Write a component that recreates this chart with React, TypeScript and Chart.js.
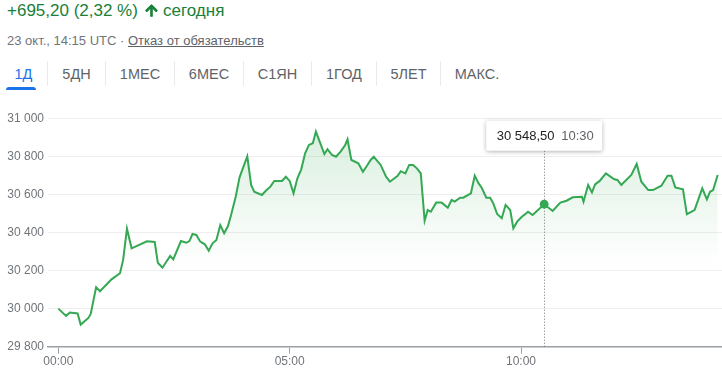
import React, { useEffect, useRef } from 'react';
import { Chart, registerables } from 'chart.js';

Chart.register(...registerables);

// Minutes since 00:00 (UTC) for each quote
const timesMin = [
  0, 10, 15, 25, 29, 39, 42, 49, 54, 69, 80, 84, 89, 95, 115, 125, 129, 135, 145, 149,
  159, 166, 170, 174, 179, 184, 190, 195, 200, 205, 210, 215, 220, 224, 230, 235, 245, 250, 254, 264,
  270, 275, 280, 290, 295, 300, 305, 310, 315, 320, 325, 330, 334, 345, 349, 355, 360, 366, 372, 375,
  380, 389, 395, 400, 405, 409, 418, 425, 430, 440, 444, 450, 455, 460, 465, 470, 475, 479, 483, 490,
  497, 505, 510, 514, 521, 525, 535, 540, 545, 549, 555, 560, 564, 569, 575, 580, 586, 590, 595, 601,
  605, 609, 615, 630, 641, 651, 659, 667, 679, 681, 687, 692, 696, 702, 710, 721, 725, 730, 743, 750,
  756, 765, 771, 782, 790, 795, 800, 810, 815, 825, 835, 841, 845, 849, 855,
];

const prices = [
  30000, 29962, 29980, 29975, 29916, 29951, 29972, 30112, 30091, 30154, 30186, 30256, 30420, 30317, 30354, 30350, 30241, 30215, 30277, 30259,
  30355, 30346, 30355, 30392, 30387, 30352, 30338, 30304, 30343, 30361, 30439, 30396, 30434, 30492, 30588, 30690, 30800, 30650, 30614, 30597,
  30623, 30641, 30671, 30671, 30693, 30671, 30606, 30685, 30732, 30816, 30860, 30869, 30930, 30812, 30837, 30807, 30798, 30825, 30860, 30890,
  30781, 30764, 30719, 30749, 30781, 30798, 30755, 30693, 30667, 30698, 30722, 30711, 30755, 30755, 30737, 30711, 30462, 30518, 30509, 30557,
  30557, 30530, 30571, 30562, 30583, 30583, 30606, 30698, 30658, 30635, 30583, 30583, 30553, 30497, 30475, 30545, 30518, 30422, 30457, 30483,
  30495, 30509, 30492, 30548.5, 30513, 30557, 30567, 30585, 30588, 30562, 30650, 30611, 30653, 30671, 30711, 30680, 30676, 30650, 30702, 30760,
  30667, 30623, 30623, 30646, 30698, 30698, 30637, 30627, 30496, 30518, 30632, 30574, 30614, 30623, 30702,
];

const xTickMinutes = [0, 300, 600];
const yTickValues = [29800, 30000, 30200, 30400, 30600, 30800, 31000];
const tabs = ['1Д', '5ДН', '1МЕС', '6МЕС', 'С1ЯН', '1ГОД', '5ЛЕТ', 'МАКС.'];
const hoverTime = 630;

const changeText = '+695,20 (2,32 %)';
const todayText = 'сегодня';
const dateText = '23 окт., 14:15 UTC';
const disclaimerText = 'Отказ от обязательств';

const FONT = "Arial, 'Liberation Sans', sans-serif";
const GREEN = '#34A853';

function groupThousands(s: string): string {
  return s.replace(/\B(?=(\d{3})+(?!\d))/g, ' ');
}
function fmtAxis(v: number): string {
  return groupThousands(String(Math.round(v)));
}
function fmtPrice(v: number): string {
  const [i, d] = v.toFixed(2).split('.');
  return groupThousands(i) + ',' + d;
}
function fmtTime(m: number): string {
  const h = Math.floor(m / 60);
  const mm = Math.round(m % 60);
  return String(h).padStart(2, '0') + ':' + String(mm).padStart(2, '0');
}

const hoverPlugin = {
  id: 'hoverMarker',
  afterDatasetsDraw(chart: any) {
    const { ctx, chartArea, scales } = chart;
    const idx = timesMin.indexOf(hoverTime);
    if (idx < 0) return;
    const px = scales.x.getPixelForValue(timesMin[idx]);
    const py = scales.y.getPixelForValue(prices[idx]);
    const boxW = 116;
    const boxH = 30;
    const boxL = px - boxW / 2;
    const boxT = chartArea.top + 2.4;

    ctx.save();
    ctx.strokeStyle = '#70757a';
    ctx.lineWidth = 1;
    ctx.setLineDash([1, 2]);
    ctx.beginPath();
    ctx.moveTo(Math.round(px) + 0.5, boxT + boxH);
    ctx.lineTo(Math.round(px) + 0.5, chartArea.bottom);
    ctx.stroke();
    ctx.setLineDash([]);

    ctx.fillStyle = GREEN;
    ctx.beginPath();
    ctx.arc(px, py, 4.4, 0, Math.PI * 2);
    ctx.fill();

    ctx.shadowColor = 'rgba(0,0,0,0.3)';
    ctx.shadowBlur = 4;
    ctx.shadowOffsetY = 1;
    ctx.fillStyle = '#ffffff';
    ctx.beginPath();
    ctx.roundRect(boxL, boxT, boxW, boxH, 2);
    ctx.fill();
    ctx.shadowColor = 'transparent';
    ctx.shadowBlur = 0;
    ctx.shadowOffsetY = 0;

    ctx.font = `13px ${FONT}`;
    ctx.textBaseline = 'middle';
    ctx.textAlign = 'left';
    ctx.fillStyle = '#202124';
    ctx.fillText(fmtPrice(prices[idx]), boxL + 10.5, boxT + boxH / 2 + 0.5);
    ctx.fillStyle = '#5f6368';
    ctx.fillText(fmtTime(timesMin[idx]), boxL + 75, boxT + boxH / 2 + 0.5);
    ctx.restore();
  },
};

function PriceChart() {
  const ref = useRef<HTMLCanvasElement | null>(null);
  useEffect(() => {
    if (!ref.current) return;
    const chart = new Chart(ref.current, {
      type: 'line',
      data: {
        datasets: [
          {
            data: timesMin.map((t, i) => ({ x: t, y: prices[i] })),
            borderColor: GREEN,
            borderWidth: 2,
            pointRadius: 0,
            tension: 0,
            fill: 'start',
            backgroundColor: (c: any) => {
              const chart = c.chart;
              const area = chart.chartArea;
              if (!area) return 'rgba(52,168,83,0.08)';
              const g = chart.ctx.createLinearGradient(0, area.top, 0, area.bottom);
              g.addColorStop(0, 'rgba(52,168,83,0.2)');
              g.addColorStop(0.64, 'rgba(52,168,83,0)');
              g.addColorStop(1, 'rgba(52,168,83,0)');
              return g;
            },
          },
        ],
      },
      options: {
        animation: false,
        responsive: false,
        maintainAspectRatio: false,
        events: [],
        layout: { padding: { top: 18.3, left: 0, right: 0, bottom: 0 } },
        plugins: { legend: { display: false }, tooltip: { enabled: false } },
        scales: {
          x: {
            type: 'linear',
            min: -13.4,
            max: 860.6,
            afterBuildTicks: (s: any) => {
              s.ticks = xTickMinutes.map((v) => ({ value: v }));
            },
            afterFit: (s: any) => {
              s.height = 25.3;
            },
            ticks: {
              callback: (v: any) => fmtTime(Number(v)),
              color: '#70757a',
              font: { size: 12, family: FONT },
              padding: 1,
              maxRotation: 0,
              autoSkip: false,
            },
            grid: { drawOnChartArea: false, drawTicks: true, tickLength: 7, color: '#9aa0a6', lineWidth: 1 },
            border: { display: true, color: '#9aa0a6', width: 1.5 },
          },
          y: {
            type: 'linear',
            min: 29800,
            max: 31000,
            afterBuildTicks: (s: any) => {
              s.ticks = yTickValues.map((v) => ({ value: v }));
            },
            afterFit: (s: any) => {
              s.width = 48;
            },
            ticks: {
              callback: (v: any) => fmtAxis(Number(v)),
              color: '#70757a',
              font: { size: 12, family: FONT },
              padding: 4,
            },
            grid: {
              drawTicks: false,
              color: (c: any) => (c.tick && c.tick.value === 29800 ? 'rgba(0,0,0,0)' : '#eeeeee'),
              lineWidth: 1,
            },
            border: { display: false },
          },
        },
      },
      plugins: [hoverPlugin],
    } as any);
    return () => chart.destroy();
  }, []);
  return <canvas ref={ref} width={722} height={272} style={{ width: 722, height: 272, display: 'block' }} />;
}

const tabWidths = [48, 58, 69, 69, 68, 65, 64, 72];

export default function App() {
  return (
    <div
      style={{
        position: 'absolute',
        left: 0,
        top: 0,
        width: 722,
        height: 372,
        background: '#ffffff',
        fontFamily: FONT,
        overflow: 'hidden',
      }}
    >
      <div style={{ position: 'absolute', left: 7, top: 1, fontSize: 17, lineHeight: '19px', color: '#188038', whiteSpace: 'nowrap' }}>
        {changeText}
      </div>
      <svg style={{ position: 'absolute', left: 142.5, top: 1.5 }} width={17} height={17} viewBox="0 0 24 24">
        <path
          fill="#188038"
          stroke="#188038"
          strokeWidth={1.6}
          strokeLinejoin="round"
          d="M4 12l1.41 1.41L11 7.83V20h2V7.83l5.58 5.59L20 12l-8-8-8 8z"
        />
      </svg>
      <div style={{ position: 'absolute', left: 163, top: 1, fontSize: 17, lineHeight: '19px', color: '#188038', whiteSpace: 'nowrap' }}>
        {todayText}
      </div>

      <div style={{ position: 'absolute', left: 7, top: 33, fontSize: 13, lineHeight: '15px', color: '#70757a', whiteSpace: 'nowrap' }}>
        {dateText}
      </div>
      <div style={{ position: 'absolute', left: 120, top: 33, fontSize: 13, lineHeight: '15px', color: '#70757a' }}>·</div>
      <div
        style={{
          position: 'absolute',
          left: 128,
          top: 33,
          fontSize: 13,
          lineHeight: '15px',
          color: '#5f6368',
          textDecoration: 'underline',
          whiteSpace: 'nowrap',
        }}
      >
        {disclaimerText}
      </div>

      <div style={{ position: 'absolute', left: 0, top: 61, height: 30, display: 'flex' }}>
        {tabs.map((t, i) => (
          <div key={t} style={{ display: 'flex', alignItems: 'flex-start' }}>
            <div
              style={{
                width: tabWidths[i] - (i < tabs.length - 1 ? 1 : 0),
                height: 30,
                position: 'relative',
                textAlign: 'center',
                fontSize: 14.5,
                lineHeight: '16px',
                paddingTop: 5,
                boxSizing: 'border-box',
                color: i === 0 ? '#1a73e8' : '#5f6368',
                whiteSpace: 'nowrap',
              }}
            >
              {t}
              {i === 0 && (
                <div
                  style={{
                    position: 'absolute',
                    left: 6,
                    width: 30,
                    top: 26,
                    height: 3,
                    background: '#1a73e8',
                    borderTopLeftRadius: 3,
                    borderTopRightRadius: 3,
                  }}
                />
              )}
            </div>
            {i < tabs.length - 1 && <div style={{ width: 1, height: 25, background: '#e8eaed' }} />}
          </div>
        ))}
      </div>

      <div style={{ position: 'absolute', left: 0, top: 100, width: 722, height: 272 }}>
        <PriceChart />
      </div>
    </div>
  );
}
